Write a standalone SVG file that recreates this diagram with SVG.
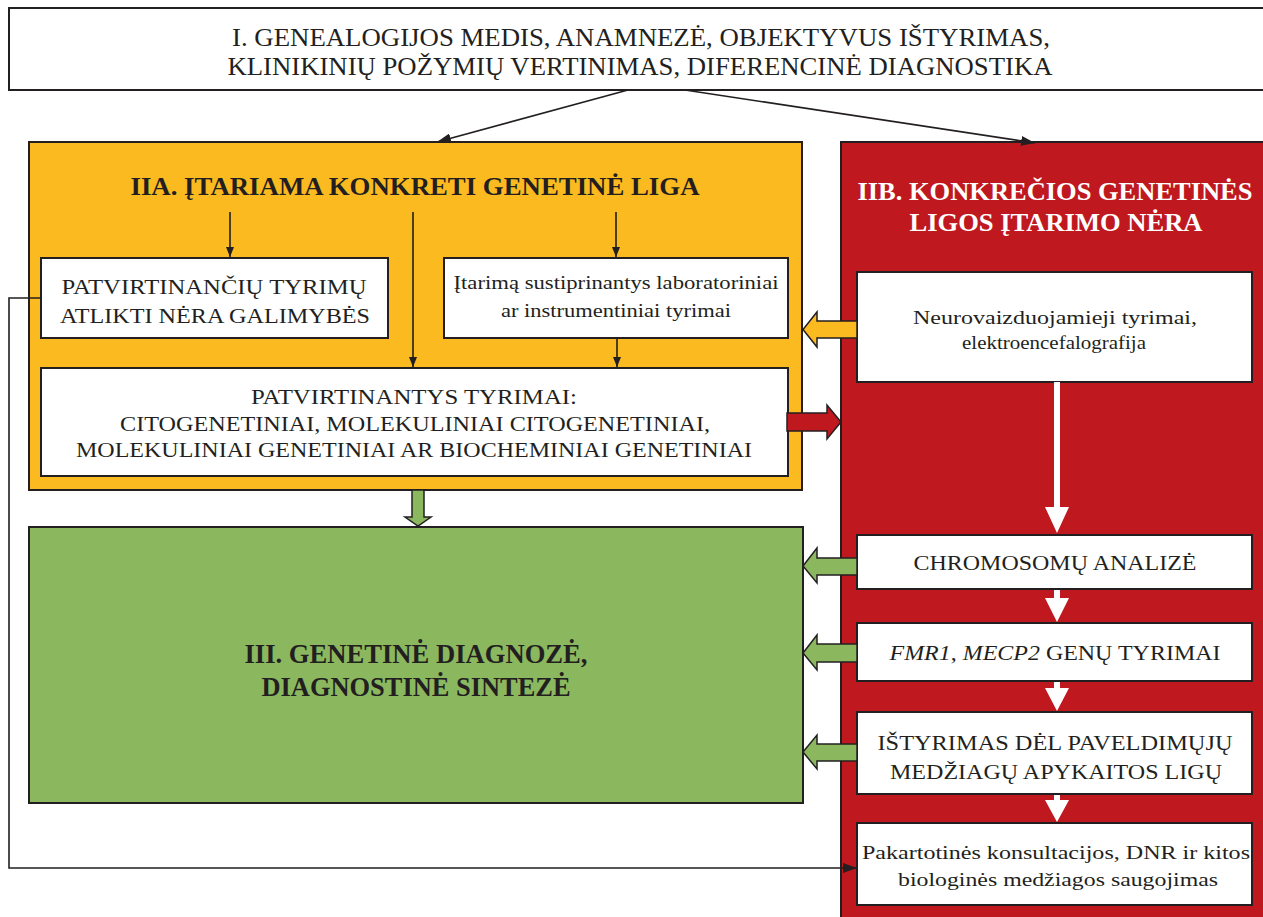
<svg xmlns="http://www.w3.org/2000/svg" width="1263" height="917" viewBox="0 0 1263 917" font-family="Liberation Serif">
<defs>
<style>
.box{fill:#fff;stroke:#231F20;stroke-width:2}
.t{fill:#231F20;text-anchor:middle}
.b{font-weight:bold}
.w{fill:#fff}
.ln{fill:none;stroke:#231F20;stroke-width:1.6}
.fat{stroke:#231F20;stroke-width:1.5;stroke-linejoin:miter}
.wa{fill:#fff}
</style>
<marker id="ah" viewBox="0 0 14 10" refX="14" refY="5" markerWidth="14" markerHeight="10" markerUnits="userSpaceOnUse" orient="auto">
<path d="M0,0 L14,5 L0,10 Z" fill="#231F20"/>
</marker>
<marker id="ahs" viewBox="0 0 10 8" refX="10" refY="4" markerWidth="10" markerHeight="8" markerUnits="userSpaceOnUse" orient="auto">
<path d="M0,0 L10,4 L0,8 Z" fill="#231F20"/>
</marker>
</defs>
<rect width="1263" height="917" fill="#fff"/>

<g id="top">
<rect class="box" x="9" y="8" width="1260" height="82"/>
<text class="t" x="641" y="46" font-size="26" textLength="818" lengthAdjust="spacingAndGlyphs">I. GENEALOGIJOS MEDIS, ANAMNEZĖ, OBJEKTYVUS IŠTYRIMAS,</text>
<text class="t" x="640" y="75" font-size="26" textLength="825" lengthAdjust="spacingAndGlyphs">KLINIKINIŲ POŽYMIŲ VERTINIMAS, DIFERENCINĖ DIAGNOSTIKA</text>
</g>

<g id="iia">
<rect x="29" y="142" width="773" height="348" fill="#FBBA1F" stroke="#231F20" stroke-width="2"/>
<text class="t b" x="415" y="195" font-size="26" textLength="569" lengthAdjust="spacingAndGlyphs">IIA. ĮTARIAMA KONKRETI GENETINĖ LIGA</text>
</g>

<g id="iib">
<rect x="841" y="142" width="430" height="790" fill="#C0181F" stroke="#231F20" stroke-width="2"/>
<text class="t b w" x="1055" y="200" font-size="26" textLength="395" lengthAdjust="spacingAndGlyphs">IIB. KONKREČIOS GENETINĖS</text>
<text class="t b w" x="1056" y="231" font-size="26" textLength="293" lengthAdjust="spacingAndGlyphs">LIGOS ĮTARIMO NĖRA</text>
</g>

<g id="iii">
<rect x="29" y="527" width="774" height="276" fill="#8BB85F" stroke="#231F20" stroke-width="2"/>
<text class="t b" x="416" y="663" font-size="27" textLength="343" lengthAdjust="spacingAndGlyphs">III. GENETINĖ DIAGNOZĖ,</text>
<text class="t b" x="416" y="696" font-size="27" textLength="309" lengthAdjust="spacingAndGlyphs">DIAGNOSTINĖ SINTEZĖ</text>
</g>

<g id="nera-galimybes">
<rect class="box" x="41" y="258" width="347" height="80"/>
<text class="t" x="214" y="294" font-size="21" textLength="305" lengthAdjust="spacingAndGlyphs">PATVIRTINANČIŲ TYRIMŲ</text>
<text class="t" x="215" y="323" font-size="21" textLength="310" lengthAdjust="spacingAndGlyphs">ATLIKTI NĖRA GALIMYBĖS</text>
</g>

<g id="sustiprinantys">
<rect class="box" x="444" y="258" width="344" height="80"/>
<text class="t" x="616" y="289" font-size="18" textLength="325" lengthAdjust="spacingAndGlyphs">Įtarimą sustiprinantys laboratoriniai</text>
<text class="t" x="616" y="317" font-size="18" textLength="230" lengthAdjust="spacingAndGlyphs">ar instrumentiniai tyrimai</text>
</g>

<g id="patvirtinantys">
<rect class="box" x="41" y="368" width="747" height="108"/>
<text class="t" x="414" y="404" font-size="21" textLength="326" lengthAdjust="spacingAndGlyphs">PATVIRTINANTYS TYRIMAI:</text>
<text class="t" x="415" y="431" font-size="21" textLength="590" lengthAdjust="spacingAndGlyphs">CITOGENETINIAI, MOLEKULINIAI CITOGENETINIAI,</text>
<text class="t" x="414" y="457" font-size="21" textLength="676" lengthAdjust="spacingAndGlyphs">MOLEKULINIAI GENETINIAI AR BIOCHEMINIAI GENETINIAI</text>
</g>

<g id="neuro">
<rect class="box" x="857" y="272" width="395" height="110"/>
<text class="t" x="1055" y="324" font-size="18" textLength="284" lengthAdjust="spacingAndGlyphs">Neurovaizduojamieji tyrimai,</text>
<text class="t" x="1054" y="349" font-size="18" textLength="184" lengthAdjust="spacingAndGlyphs">elektroencefalografija</text>
</g>

<g id="chromosomu">
<rect class="box" x="857" y="535" width="395" height="54"/>
<text class="t" x="1055" y="570" font-size="21" textLength="283" lengthAdjust="spacingAndGlyphs">CHROMOSOMŲ ANALIZĖ</text>
</g>

<g id="genu">
<rect class="box" x="857" y="623" width="395" height="58"/>
<text class="t" x="1055" y="660" font-size="21" textLength="331" lengthAdjust="spacingAndGlyphs"><tspan font-style="italic">FMR1</tspan>, <tspan font-style="italic">MECP2</tspan> GENŲ TYRIMAI</text>
</g>

<g id="apykaitos">
<rect class="box" x="857" y="712" width="395" height="82"/>
<text class="t" x="1055" y="750" font-size="21" textLength="355" lengthAdjust="spacingAndGlyphs">IŠTYRIMAS DĖL PAVELDIMŲJŲ</text>
<text class="t" x="1056" y="779" font-size="21" textLength="332" lengthAdjust="spacingAndGlyphs">MEDŽIAGŲ APYKAITOS LIGŲ</text>
</g>

<g id="saugojimas">
<rect class="box" x="857" y="823" width="395" height="82"/>
<text class="t" x="1056" y="859" font-size="18" textLength="388" lengthAdjust="spacingAndGlyphs">Pakartotinės konsultacijos, DNR ir kitos</text>
<text class="t" x="1058" y="886" font-size="18" textLength="320" lengthAdjust="spacingAndGlyphs">biologinės medžiagos saugojimas</text>
</g>

<g id="connectors">
<line class="ln" x1="628" y1="90" x2="437" y2="142" marker-end="url(#ah)"/>
<line class="ln" x1="685" y1="90" x2="1035" y2="143" marker-end="url(#ah)"/>
<line class="ln" x1="230" y1="212" x2="230" y2="257" marker-end="url(#ahs)"/>
<line class="ln" x1="413" y1="212" x2="413" y2="367" marker-end="url(#ahs)"/>
<line class="ln" x1="616" y1="212" x2="616" y2="257" marker-end="url(#ahs)"/>
<line class="ln" x1="617" y1="338" x2="617" y2="367" marker-end="url(#ahs)"/>
<polyline class="ln" points="41,298 9,298 9,868 857,868" marker-end="url(#ah)"/>
<polygon class="fat" fill="#FBBA1F" points="857,321 817,321 817,312 803,329.5 817,347 817,338 857,338"/>
<polygon class="fat" fill="#C0181F" points="787,413 827,413 827,405 841,422 827,439 827,431 787,431"/>
<polygon class="fat" fill="#8BB85F" points="412,490 424,490 424,517 431,517 418,526 405,517 412,517"/>
<polygon class="fat" fill="#8BB85F" points="857,558 817,558 817,548 803,566 817,583 817,575 857,575"/>
<polygon class="fat" fill="#8BB85F" points="857,644 817,644 817,635 803,653 817,670 817,662 857,662"/>
<polygon class="fat" fill="#8BB85F" points="857,744 817,744 817,735 803,752 817,769 817,761 857,761"/>
<polygon class="wa" points="1054,382 1060,382 1060,507 1069,507 1057,533 1045,507 1054,507"/>
<polygon class="wa" points="1054,590 1060,590 1060,598 1069,598 1057,622 1045,598 1054,598"/>
<polygon class="wa" points="1054,682 1060,682 1060,688 1069,688 1057,711 1045,688 1054,688"/>
<polygon class="wa" points="1054,795 1060,795 1060,800 1069,800 1057,822 1045,800 1054,800"/>
</g>
</svg>
